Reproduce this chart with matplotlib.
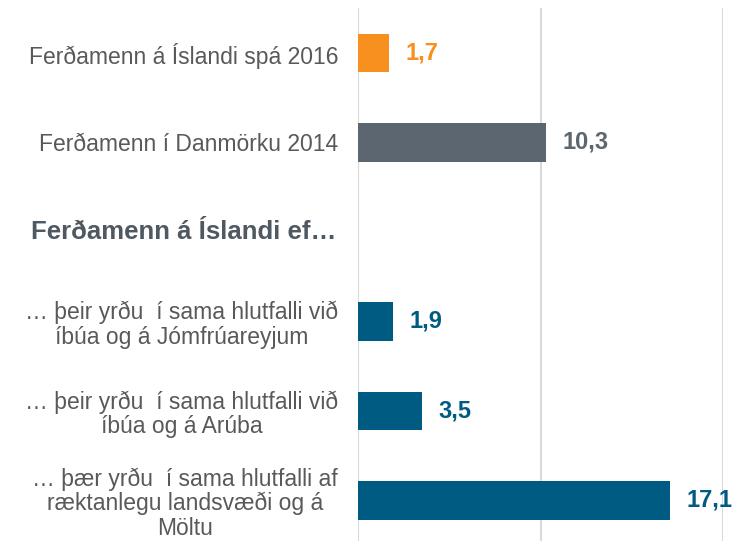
import matplotlib.pyplot as plt

plt.rcParams['font.family'] = ['Liberation Sans', 'DejaVu Sans']

labels = [
    "Ferðamenn á Íslandi spá 2016",
    "Ferðamenn í Danmörku 2014",
    "",
    "… þeir yrðu  í sama hlutfalli við\níbúa og á Jómfrúareyjum",
    "… þeir yrðu  í sama hlutfalli við\níbúa og á Arúba",
    "… þær yrðu  í sama hlutfalli af\nræktanlegu landsvæði og á\nMöltu",
]
values = [1.7, 10.3, None, 1.9, 3.5, 17.1]
colors = ["#F7901E", "#5B6670", None, "#005B82", "#005B82", "#005B82"]
header = "Ferðamenn á Íslandi ef…"

fig = plt.figure(figsize=(7.38, 5.41), dpi=100)
ax = fig.add_axes([358.3 / 738, 0.0, 364.4 / 738, (541 - 8.3) / 541])

pos = [i for i, v in enumerate(values) if v is not None]
vals = [values[i] for i in pos]
cols = [colors[i] for i in pos]
ax.barh(pos, vals, height=0.43, color=cols, zorder=3)

for p, v, c in zip(pos, vals, cols):
    ax.annotate(f"{v:.1f}".replace(".", ","), (v, p), xytext=(11.8, 0),
                textcoords="offset points", va="center", ha="left",
                fontsize=17, fontweight="bold", color=c)

ax.set_xlim(0, 20)
ax.set_ylim(5.455, -0.5)
ax.set_xticks([0, 10, 20])
ax.xaxis.grid(True, color="#D9D9D9", linewidth=1.5, zorder=0)
ax.tick_params(axis="x", bottom=False, labelbottom=False)
ax.tick_params(axis="y", left=False, pad=11)
ax.set_yticks(range(len(labels)))
ax.set_yticklabels(labels, fontsize=16.5, color="#595959", linespacing=1.08)
for t in ax.get_yticklabels():
    t.set_multialignment("center")
for s in ax.spines.values():
    s.set_visible(False)

# gap in the gridlines behind the group header
ax.axhspan(1.73, 2.315, color="white", zorder=1)
ax.annotate(header, (0, 2.0), xytext=(-15.5, 0), textcoords="offset points",
            ha="right", va="center", fontsize=18.5, fontweight="bold",
            color="#4F5961", annotation_clip=False)

fig.savefig("out.png", dpi=100)
